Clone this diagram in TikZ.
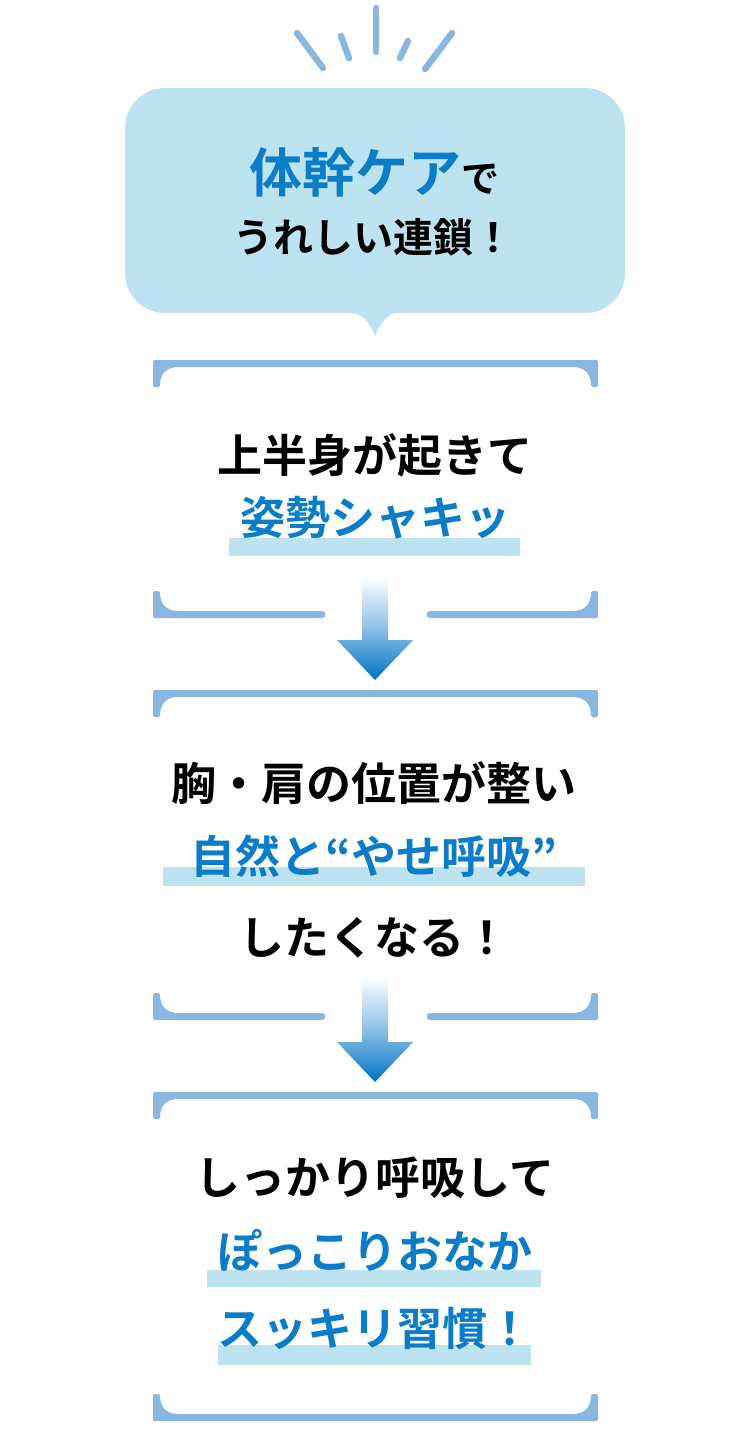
\documentclass[tikz,border=0pt]{standalone}
\usepackage{fontspec}
\setmainfont{Noto Sans CJK JP Bold}
\definecolor{brk}{HTML}{8AB6E2}
\definecolor{bub}{HTML}{BDE3F1}
\definecolor{tblue}{HTML}{0A7CC8}
\definecolor{ablue}{HTML}{0073C6}
\tikzset{
  txt/.style={inner sep=0pt, text=black, font=\fontsize{45}{45}\selectfont},
  btxt/.style={txt, text=tblue},
  hl/.style={fill=bub},
  ray/.style={draw=brk, line width=6.5pt, line cap=round},
}
\newcommand{\topbrk}[1]{%
  \fill[brk, rounded corners=1.5pt] (153,#1+27) -- (153,#1) -- (598,#1) -- (598,#1+27) -- (591,#1+27)
    .. controls (591,#1+14) and (585,#1+7) .. (571,#1+7) -- (180,#1+7)
    .. controls (166,#1+7) and (160,#1+14) .. (160,#1+27) -- cycle;}
\newcommand{\botbrk}[1]{%
  \fill[brk, rounded corners=1.5pt] (153,#1-27) -- (153,#1) -- (598,#1) -- (598,#1-27) -- (591,#1-27)
    .. controls (591,#1-14) and (585,#1-7) .. (571,#1-7) -- (180,#1-7)
    .. controls (166,#1-7) and (160,#1-14) .. (160,#1-27) -- cycle;}
\newcommand{\gapbrk}[1]{\botbrk{#1}%
  \fill[white] (322,#1-8) rectangle (430,#1+1);
  \fill[brk] (322,#1-3.5) circle (3.5pt) (430,#1-3.5) circle (3.5pt);}
\newcommand{\dnarrow}[2]{%
  \shade[top color=white, bottom color=ablue, middle color=ablue!45]
    (362,#1) -- (388,#1) -- (388,#2-40) -- (413,#2-40) -- (375,#2) -- (337,#2-40) -- (362,#2-40) -- cycle;}
\begin{document}
\begin{tikzpicture}[x=1pt,y=-1pt]
\useasboundingbox (0,0) rectangle (750,1435);
% rays
\draw[ray] (297,33) -- (323,68);
\draw[ray] (341,36) -- (349,58);
\draw[ray] (376,8) -- (376,52);
\draw[ray] (408,41) -- (400,58);
\draw[ray] (452,33) -- (425,69);
% bubble
\fill[bub, rounded corners=40pt] (125,88) rectangle (625,313);
\fill[bub] (350,312) .. controls (362,313) and (370,322) .. (375,337)
  .. controls (380,322) and (388,313) .. (400,312) -- cycle;
\node[inner sep=0pt] (t1) at (374,172) {{\color{tblue}\fontsize{53}{53}\selectfont 体幹ケア}{\fontsize{38}{38}\selectfont で}};
\node[txt, font=\fontsize{40}{40}\selectfont] (t2) at (373,237) {うれしい連鎖！};
% box 1
\topbrk{360}
\gapbrk{618}
\fill[hl] (229,538) rectangle (520,556);
\node[txt] (a1) at (375,455) {上半身が起きて};
\node[btxt] (a2) at (375,518) {姿勢シャキッ};
\dnarrow{577}{680}
% box 2
\topbrk{690}
\gapbrk{1020}
\fill[hl] (163,867) rectangle (585,886);
\node[txt] (b1) at (374,783) {胸・肩の位置が整い};
\node[btxt] (b2) at (374,856) {自然と“やせ呼吸”};
\node[txt] (b3) at (374,938) {したくなる！};
\dnarrow{977}{1082}
% box 3
\topbrk{1092}
\botbrk{1421}
\fill[hl] (207,1270) rectangle (541,1287);
\fill[hl] (218,1345) rectangle (531,1365);
\node[txt] (c1) at (375,1178) {しっかり呼吸して};
\node[btxt] (c2) at (375,1250) {ぽっこりおなか};
\node[btxt] (c3) at (375,1328) {スッキリ習慣！};
\end{tikzpicture}
\end{document}
